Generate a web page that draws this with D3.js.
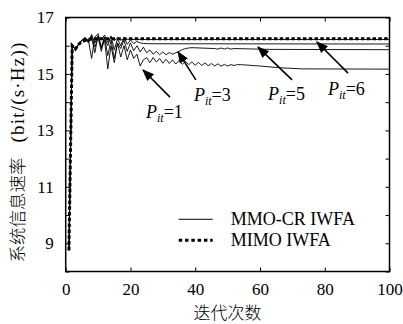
<!DOCTYPE html>
<html>
<head>
<meta charset="utf-8">
<script src="https://cdn.jsdelivr.net/npm/d3@7/dist/d3.min.js"></script>
<style>
  body { margin: 0; background: #fff; }
  svg { display: block; }
  .tick text { font-family: "Liberation Serif", serif; font-size: 17px; fill: #000; }
  .tick line { stroke: #000; stroke-width: 1; }
</style>
</head>
<body>
<svg id="chart" width="403" height="324"></svg>
<script>
// iteration ticks and rate ticks
const xTicks = [0, 20, 40, 60, 80, 100];
const yTicks = [8, 9, 10, 11, 12, 13, 14, 15, 16, 17];

// MIMO IWFA (dashed)
const mimoIter = [1, 2, 3, 4, 5, 7, 9, 100];
const mimoRate = [8.75, 16.0, 15.88, 16.05, 16.15, 16.22, 16.25, 16.25];

// MMO-CR IWFA, P_it = 1
const p1Iter = [1, 2, 3, 4, 5, 6, 7, 8, 9, 10, 11, 12, 13, 14, 15, 16, 17, 18, 19, 20,
  21, 22, 23, 24, 25, 26, 27, 28, 29, 30, 31, 32, 33, 34, 35, 36, 37, 38, 39, 40,
  41, 42, 43, 44, 45, 46, 47, 48, 49, 50, 51, 52, 53, 54, 60, 66, 73, 100];
const p1Rate = [8.75, 16.0, 15.88, 16.05, 16.2, 16.25, 16.2, 15.55, 16.3, 16.43,
  15.9, 16.2, 15.18, 16.0, 15.4, 16.1, 15.6, 16.0, 15.5, 15.85,
  15.55, 15.7, 15.28, 15.5, 15.58, 15.4, 15.58, 15.42, 15.55, 15.38,
  15.52, 15.37, 15.5, 15.35, 15.48, 15.34, 15.45, 15.33, 15.43, 15.31,
  15.41, 15.3, 15.39, 15.29, 15.37, 15.28, 15.36, 15.27, 15.34, 15.28,
  15.33, 15.3, 15.33, 15.33, 15.28, 15.22, 15.18, 15.17];

// P_it = 3
const p3Iter = [1, 2, 3, 4, 5, 6, 7, 8, 9, 10, 11, 12, 13, 14, 15, 16, 17, 18, 19, 20,
  21, 22, 23, 24, 25, 26, 27, 28, 29, 30, 31, 32, 33, 34, 35, 36, 37, 38, 39,
  46, 47, 48, 49, 50, 51, 52, 63, 100];
const p3Rate = [8.75, 16.0, 15.88, 16.05, 16.2, 16.25, 16.1, 16.3, 15.75, 16.35,
  15.95, 16.3, 15.65, 16.2, 15.55, 16.1, 15.9, 16.2, 15.8, 16.1,
  15.82, 16.0, 15.78, 15.95, 15.75, 15.85, 15.7, 15.8, 15.68, 15.78,
  15.68, 15.76, 15.7, 15.75, 15.8, 15.86, 15.9, 15.92, 15.93,
  15.9, 15.88, 15.92, 15.88, 15.92, 15.88, 15.9, 15.87, 15.86];

// P_it = 5
const p5Iter = [1, 2, 3, 4, 5, 6, 7, 8, 9, 10, 11, 12, 13, 14, 15, 16, 17, 18, 19, 20,
  21, 22, 23, 24, 26, 100];
const p5Rate = [8.75, 16.0, 15.88, 16.05, 16.2, 16.25, 16.15, 16.35, 15.95, 16.3,
  15.8, 16.3, 16.0, 16.35, 15.85, 16.25, 16.0, 16.3, 16.05, 16.2,
  16.08, 16.15, 16.1, 16.08, 16.07, 16.06];

// P_it = 6
const p6Iter = [1, 2, 3, 4, 5, 6, 7, 8, 9, 10, 11, 12, 13, 14, 15, 16, 17, 18, 20, 100];
const p6Rate = [8.75, 16.0, 15.88, 16.05, 16.2, 16.3, 16.15, 16.4, 16.1, 16.35,
  16.2, 16.38, 16.12, 16.3, 16.18, 16.28, 16.2, 16.24, 16.22, 16.22];

// annotations: label value, arrow tip and tail, text anchor (iteration, rate)
const noteLabels = ['1', '3', '5', '6'];
const noteTip = [[23.9, 15.14], [34.7, 15.78], [59.4, 15.95], [77.6, 16.13]];
const noteTail = [[32.2, 14.18], [40.2, 14.79], [69.9, 14.79], [87.2, 15.03]];
const noteText = [[24.8, 13.44], [39.6, 14.04], [62.5, 14.08], [81.0, 14.25]];

const legendNames = ['MMO-CR IWFA', 'MIMO IWFA'];

const svg = d3.select('#chart');
const margin = { top: 17.5, right: 13.5, bottom: 52.5, left: 65.7 };
const width = 403 - margin.left - margin.right,
  height = 324 - margin.top - margin.bottom;

const x = d3.scaleLinear().domain([0, 100]).range([0, width]);
const y = d3.scaleLinear().domain([8, 17]).range([height, 0]);

const frame = svg.append('g')
  .attr('transform', `translate(${margin.left},${margin.top})`);

const defs = svg.append('defs');
defs.append('clipPath').attr('id', 'plot-clip')
  .append('rect').attr('width', width).attr('height', height);
defs.append('marker')
  .attr('id', 'arrow')
  .attr('viewBox', '0 0 10 10')
  .attr('refX', 9).attr('refY', 5)
  .attr('markerWidth', 12).attr('markerHeight', 12)
  .attr('markerUnits', 'userSpaceOnUse')
  .attr('orient', 'auto')
  .append('path')
    .attr('d', 'M0,1L10,5L0,9z')
    .attr('fill', '#000');

// axes, ticks pointing inward
frame.append('g')
  .attr('transform', `translate(0,${height})`)
  .call(d3.axisBottom(x).tickValues(xTicks).tickSize(-4).tickPadding(11.5));
frame.append('g')
  .call(d3.axisTop(x).tickValues(xTicks).tickSize(-4).tickFormat(''));
frame.append('g')
  .call(d3.axisLeft(y).tickValues(yTicks).tickSize(-4).tickPadding(12)
    .tickFormat(d => d % 2 ? d : ''));
frame.append('g')
  .attr('transform', `translate(${width},0)`)
  .call(d3.axisRight(y).tickValues(yTicks).tickSize(-4).tickFormat(''));
frame.selectAll('.domain').remove();

const line = d3.line().x(d => x(d[0])).y(d => y(d[1]));
const zip = (a, b) => a.map((v, i) => [v, b[i]]);

const series = [
  { pts: zip(p1Iter, p1Rate), dash: null, w: 0.9 },
  { pts: zip(p3Iter, p3Rate), dash: null, w: 0.9 },
  { pts: zip(p5Iter, p5Rate), dash: null, w: 0.9 },
  { pts: zip(p6Iter, p6Rate), dash: null, w: 0.9 },
  { pts: zip(mimoIter, mimoRate), dash: '3.5,2.3', w: 3 }
];

frame.append('g').attr('clip-path', 'url(#plot-clip)')
  .selectAll('path')
  .data(series)
  .enter().append('path')
    .attr('d', d => line(d.pts))
    .attr('fill', 'none')
    .attr('stroke', '#000')
    .attr('stroke-width', d => d.w)
    .attr('stroke-dasharray', d => d.dash)
    .attr('stroke-linejoin', 'miter');

// frame
frame.append('rect')
  .attr('width', width).attr('height', height)
  .attr('fill', 'none').attr('stroke', '#000').attr('stroke-width', 1.5);

// annotations
const notes = noteLabels.map((l, i) => ({ l, tip: noteTip[i], tail: noteTail[i], txt: noteText[i] }));
frame.selectAll('.note-arrow')
  .data(notes)
  .enter().append('line')
    .attr('class', 'note-arrow')
    .attr('x1', d => x(d.tail[0])).attr('y1', d => y(d.tail[1]))
    .attr('x2', d => x(d.tip[0])).attr('y2', d => y(d.tip[1]))
    .attr('stroke', '#000').attr('stroke-width', 1.6)
    .attr('marker-end', 'url(#arrow)');

const noteTexts = frame.selectAll('.note-text')
  .data(notes)
  .enter().append('text')
    .attr('class', 'note-text')
    .attr('x', d => x(d.txt[0])).attr('y', d => y(d.txt[1]))
    .style('font-family', '"Liberation Serif", serif')
    .style('font-size', '18px');
noteTexts.append('tspan').style('font-style', 'italic').text('P');
noteTexts.append('tspan').style('font-style', 'italic').style('font-size', '12px')
  .attr('dy', 4).text('it');
noteTexts.append('tspan').attr('dy', -4).text(d => '=' + d.l);

// legend
const legend = frame.append('g')
  .attr('transform', `translate(${x(34.9)},${y(9.85)})`);
const lg = legend.selectAll('g')
  .data(legendNames)
  .enter().append('g')
    .attr('transform', (d, i) => `translate(0,${i * 21})`);
lg.append('line')
  .attr('x1', 0).attr('x2', 34).attr('y1', 0).attr('y2', 0)
  .attr('stroke', '#000')
  .attr('stroke-width', (d, i) => i ? 3 : 1)
  .attr('stroke-dasharray', (d, i) => i ? '3.5,2.8' : null);
lg.append('text')
  .attr('x', 52).attr('y', 6)
  .style('font-family', '"Liberation Serif", serif')
  .style('font-size', '18px')
  .text(d => d);

// axis titles
svg.append('text')
  .attr('x', margin.left + x(50)).attr('y', 318.5)
  .attr('text-anchor', 'middle')
  .style('font-family', '"Noto Sans CJK SC", sans-serif')
  .style('font-weight', 300)
  .style('font-size', '17px')
  .text('迭代次数');

svg.append('text')
  .attr('transform', 'translate(24,210) rotate(-90)')
  .attr('text-anchor', 'middle')
  .style('font-family', '"Noto Sans CJK SC", sans-serif')
  .style('font-weight', 300)
  .style('font-size', '17.5px')
  .text('系统信息速率');
svg.append('text')
  .attr('transform', 'translate(24,92) rotate(-90)')
  .attr('text-anchor', 'middle')
  .style('font-family', '"Liberation Serif", serif')
  .style('font-size', '19px')
  .style('letter-spacing', '1.2px')
  .text('(bit/(s·Hz))');
</script>
</body>
</html>
